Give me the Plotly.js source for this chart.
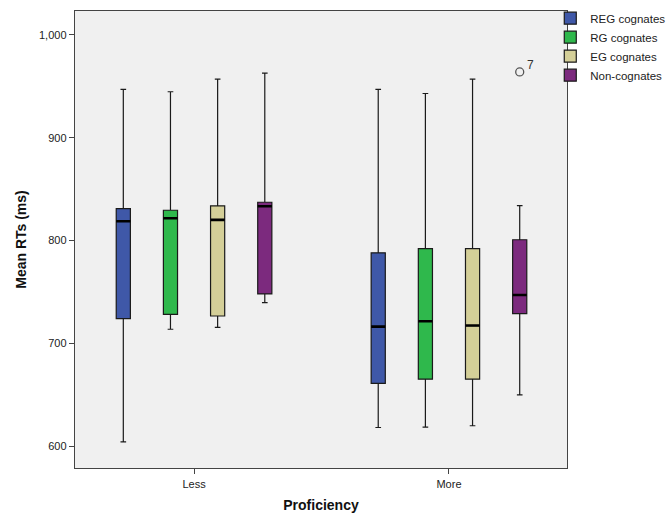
<!DOCTYPE html>
<html>
<head>
<meta charset="utf-8">
<script src="https://cdn.plot.ly/plotly-3.0.1.min.js"></script>
<style>html,body{margin:0;padding:0;background:#fff;}#chart{width:668px;height:516px;}</style>
</head>
<body>
<div id="chart"></div>
<script>
// Proficiency groups (0 = Less, 1 = More)
var groups = [0, 1];
var groupLabels = ["Less", "More"];
var seriesNames = ["REG cognates", "RG cognates", "EG cognates", "Non-cognates"];
var seriesColors = ["#3f58a8", "#2fb84c", "#d4cf98", "#7c2a7e"];

// Box statistics per series: [Less, More]
var lowerWhisker = [[604, 618], [713.6, 618.4], [715.5, 619.7], [739.5, 649.8]];
var q1Values     = [[724, 661], [728, 665], [726.5, 665], [748, 728.8]];
var medianValues = [[818.7, 716.2], [821.6, 721.4], [820, 717.2], [833.3, 746.9]];
var q3Values     = [[831, 788], [829.4, 792], [833.7, 792], [837.2, 800.7]];
var upperWhisker = [[947, 947], [944.7, 943], [957, 957], [962.8, 834]];

// Outlier (case 7, Non-cognates, More)
var outlierSeries = 3;
var outlierGroup = 1;
var outlierValue = 964;
var outlierLabel = "7";

var traces = [];
for (var i = 0; i < seriesNames.length; i++) {
  traces.push({
    type: "box",
    name: seriesNames[i],
    x: groups,
    offsetgroup: "s" + i,
    q1: q1Values[i],
    median: medianValues[i],
    q3: q3Values[i],
    lowerfence: lowerWhisker[i],
    upperfence: upperWhisker[i],
    fillcolor: seriesColors[i],
    line: {color: "#1a1a1a", width: 1.2},
    whiskerwidth: 0.4,
    boxpoints: false,
    hoverinfo: "skip"
  });
}
// thick median bars
for (var j = 0; j < seriesNames.length; j++) {
  traces.push({
    type: "box",
    name: seriesNames[j] + " median",
    x: groups,
    offsetgroup: "s" + j,
    q1: medianValues[j],
    median: medianValues[j],
    q3: medianValues[j],
    lowerfence: medianValues[j],
    upperfence: medianValues[j],
    fillcolor: "rgba(0,0,0,0)",
    line: {color: "#000000", width: 2.6},
    whiskerwidth: 0,
    boxpoints: false,
    showlegend: false,
    hoverinfo: "skip"
  });
}

// position of the outlier within the group
var groupWidth = 0.74, nSeries = seriesNames.length;
var slot = groupWidth / nSeries;
var outlierX = groups[outlierGroup] - groupWidth / 2 + slot * (outlierSeries + 0.5);

traces.push({
  type: "scatter",
  mode: "markers",
  x: [outlierX],
  y: [outlierValue],
  marker: {symbol: "circle-open", size: 8, color: "#555", line: {width: 1.3}},
  showlegend: false,
  hoverinfo: "skip"
});

var layout = {
  width: 668,
  height: 516,
  margin: {l: 75, r: 101, t: 11, b: 48, autoexpand: false},
  paper_bgcolor: "#ffffff",
  plot_bgcolor: "#f0f0f0",
  boxmode: "group",
  boxgap: 0.26,
  boxgroupgap: 0.70,
  font: {family: "Arial, Liberation Sans, sans-serif", size: 11, color: "#222"},
  annotations: [{
    x: outlierX,
    y: outlierValue,
    xref: "x",
    yref: "y",
    text: outlierLabel,
    showarrow: false,
    xanchor: "left",
    yanchor: "middle",
    xshift: 5,
    yshift: 7,
    font: {family: "Arial, Liberation Sans, sans-serif", size: 12, color: "#333"}
  }],
  xaxis: {
    range: [-0.467, 1.463],
    tickmode: "array",
    tickvals: groups,
    ticktext: groupLabels,
    ticks: "outside",
    ticklen: 5,
    tickcolor: "#444",
    showgrid: false,
    zeroline: false,
    showline: true,
    linecolor: "#444",
    linewidth: 1.3,
    mirror: true,
    tickfont: {size: 11, color: "#222"},
    title: {text: "<b>Proficiency</b>", font: {size: 14, color: "#111"}, standoff: 11}
  },
  yaxis: {
    range: [578.6, 1023.3],
    tickvals: [600, 700, 800, 900, 1000],
    tickformat: ",d",
    ticks: "outside",
    ticklen: 5,
    tickcolor: "#444",
    showgrid: false,
    zeroline: false,
    showline: true,
    linecolor: "#444",
    linewidth: 1.3,
    mirror: true,
    tickfont: {size: 11, color: "#222"},
    title: {text: "<b>Mean RTs (ms)</b>", font: {size: 14, color: "#111"}, standoff: 9}
  },
  showlegend: true,
  legend: {
    x: 0.966,
    xanchor: "left",
    y: 1.016,
    yanchor: "top",
    font: {size: 11.5, color: "#222"},
    bgcolor: "rgba(0,0,0,0)",
    tracegroupgap: 0,
    itemwidth: 30
  }
};

Plotly.newPlot("chart", traces, layout, {staticPlot: true, displayModeBar: false});
</script>
</body>
</html>
